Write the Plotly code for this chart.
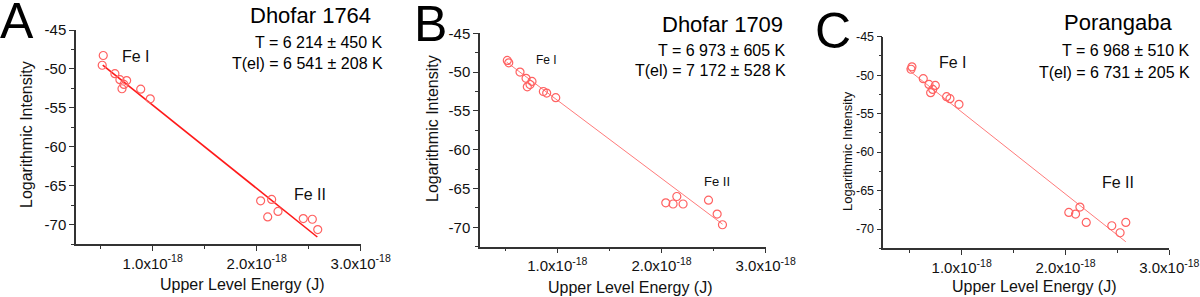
import plotly.graph_objects as go

W, H = 1200, 297

# ---------------- data ----------------
# Panel A - Dhofar 1764
a_fe1_x = [0.515e-18, 0.525e-18, 0.637e-18, 0.685e-18, 0.705e-18, 0.724e-18, 0.750e-18, 0.885e-18, 0.977e-18]
a_fe1_y = [-49.53, -48.28, -50.61, -51.38, -52.55, -52.00, -51.50, -52.60, -53.84]
a_fe2_x = [2.038e-18, 2.144e-18, 2.106e-18, 2.205e-18, 2.448e-18, 2.535e-18, 2.587e-18]
a_fe2_y = [-66.95, -66.77, -69.02, -68.32, -69.23, -69.32, -70.65]
a_fit_x = [0.520e-18, 2.583e-18]
a_fit_y = [-49.50, -71.60]

# Panel B - Dhofar 1709
b_fe1_x = [0.520e-18, 0.534e-18, 0.642e-18, 0.700e-18, 0.712e-18, 0.738e-18, 0.757e-18, 0.866e-18, 0.898e-18, 0.985e-18]
b_fe1_y = [-48.50, -48.80, -50.00, -50.80, -51.90, -51.60, -51.20, -52.50, -52.70, -53.30]
b_fe2_x = [2.041e-18, 2.111e-18, 2.147e-18, 2.207e-18, 2.451e-18, 2.534e-18, 2.585e-18]
b_fe2_y = [-66.85, -67.00, -66.03, -67.00, -66.50, -68.30, -69.67]
b_fit_x = [0.514e-18, 2.586e-18]
b_fit_y = [-48.72, -69.60]

# Panel C - Porangaba
c_fe1_x = [0.521e-18, 0.512e-18, 0.630e-18, 0.685e-18, 0.701e-18, 0.721e-18, 0.746e-18, 0.855e-18, 0.887e-18, 0.974e-18]
c_fe1_y = [-48.92, -49.23, -50.46, -51.20, -52.27, -51.85, -51.33, -52.79, -53.05, -53.79]
c_fe2_x = [2.032e-18, 2.097e-18, 2.139e-18, 2.200e-18, 2.446e-18, 2.526e-18, 2.581e-18]
c_fe2_y = [-67.84, -68.05, -67.14, -69.14, -69.57, -70.48, -69.14]
c_fit_x = [0.470e-18, 2.581e-18]
c_fit_y = [-49.13, -71.65]

panel_letters = ["A", "B", "C"]
panel_names = ["Dhofar 1764", "Dhofar 1709", "Porangaba"]
temp_T = ["T = 6 214 ± 450 K", "T = 6 973 ± 605 K", "T = 6 968 ± 510 K"]
temp_el = ["T(el) = 6 541 ± 208 K", "T(el) = 7 172 ± 528 K", "T(el) = 6 731 ± 205 K"]

y_tickvals = [-70, -65, -60, -55, -50, -45]
y_ticktext = ["-70", "-65", "-60", "-55", "-50", "-45"]
x_tickvals = [1.0e-18, 2.0e-18, 3.0e-18]
x_ticktext = ["1.0x10<sup>-18</sup>", "2.0x10<sup>-18</sup>", "3.0x10<sup>-18</sup>"]
x_ranges = [[0.263e-18, 3.0e-18], [0.258e-18, 3.0e-18], [0.245e-18, 3.0e-18]]
y_range = [-72.5, -45]

# label positions in data units (Fe I, Fe II)
fe1_label_pos = [(0.84e-18, -48.4), (0.90e-18, -48.4), (0.92e-18, -48.3)]
fe2_label_pos = [(2.51e-18, -66.1), (2.53e-18, -64.1), (2.51e-18, -64.0)]

# ---------------- styling / layout ----------------
FONT = "Liberation Sans, Arial, sans-serif"
MARKER_COLOR = "#ff6262"
LINE_COLORS = ["#ff1a1a", "#ff7a7a", "#ff7a7a"]
LINE_WIDTHS = [1.6, 1.0, 1.0]
AXIS_COLOR = "#333333"

# pixel geometry of each plot area: x0, x1, ytop, ybottom
geom = [(76, 360.7, 30, 244), (480, 765.7, 33.3, 246.7), (883.3, 1169.3, 36.7, 248.3)]
ytick_size = [15, 15, 12.5]
ytitle_size = [16, 16, 13]
fe1_size = [16, 12, 16]
fe2_size = [16, 13, 16]

def px(x):
    return x / W

def py(y):
    return 1 - y / H

fig = go.Figure()

datasets = [
    (a_fe1_x, a_fe1_y, a_fe2_x, a_fe2_y, a_fit_x, a_fit_y),
    (b_fe1_x, b_fe1_y, b_fe2_x, b_fe2_y, b_fit_x, b_fit_y),
    (c_fe1_x, c_fe1_y, c_fe2_x, c_fe2_y, c_fit_x, c_fit_y),
]

annotations = []
for i, (f1x, f1y, f2x, f2y, fx, fy) in enumerate(datasets):
    sfx = "" if i == 0 else str(i + 1)
    xa, ya = "x" + sfx, "y" + sfx
    fig.add_trace(go.Scatter(x=fx, y=fy, mode="lines", xaxis=xa, yaxis=ya,
                             line=dict(color=LINE_COLORS[i], width=LINE_WIDTHS[i]),
                             showlegend=False, hoverinfo="skip"))
    for xs, ys in ((f1x, f1y), (f2x, f2y)):
        fig.add_trace(go.Scatter(x=xs, y=ys, mode="markers", xaxis=xa, yaxis=ya,
                                 marker=dict(symbol="circle-open", size=8, color=MARKER_COLOR,
                                             line=dict(width=1.2, color=MARKER_COLOR)),
                                 showlegend=False))

    x0, x1, yt, yb = geom[i]
    common = dict(showline=True, linecolor=AXIS_COLOR, linewidth=1.5, showgrid=False, zeroline=False,
                  ticks="outside", ticklen=5, tickwidth=1.2, tickcolor=AXIS_COLOR, mirror=False,
                  automargin=False)
    fig.layout["xaxis" + sfx] = dict(
        domain=[px(x0), px(x1)], anchor=ya, range=x_ranges[i], tickmode="array",
        tickvals=x_tickvals, ticktext=x_ticktext,
        tickfont=dict(family=FONT, size=15, color="#111"),
        minor=dict(dtick=0.5e-18, tick0=0, ticks="outside", ticklen=3, tickcolor=AXIS_COLOR, tickwidth=1.2),
        **common)
    fig.layout["yaxis" + sfx] = dict(
        domain=[py(yb), py(yt)], anchor=xa, range=y_range, tickmode="array",
        tickvals=y_tickvals, ticktext=y_ticktext,
        tickfont=dict(family=FONT, size=ytick_size[i], color="#111"),
        minor=dict(dtick=2.5, tick0=0, ticks="outside", ticklen=3, tickcolor=AXIS_COLOR, tickwidth=1.2),
        **common)

    # Fe I / Fe II labels
    annotations.append(dict(x=fe1_label_pos[i][0], y=fe1_label_pos[i][1], xref=xa, yref=ya,
                            text="Fe I", showarrow=False, font=dict(family=FONT, size=fe1_size[i], color="#111")))
    annotations.append(dict(x=fe2_label_pos[i][0], y=fe2_label_pos[i][1], xref=xa, yref=ya,
                            text="Fe II", showarrow=False, font=dict(family=FONT, size=fe2_size[i], color="#111")))

# paper-positioned texts (pixel coordinates)
letter_pos = [(17, 21), (430, 24), (833, 31)]
name_pos = [(310, 16), (722, 25), (1118, 22)]
t_right = [385, 788, 1192]
t1_y = [42.5, 50, 50]
t2_y = [63.5, 70, 72]
ytitle_pos = [(26, 135), (432, 129), (847, 151)]
xtitle_pos = [(242, 284), (630, 287), (1034, 286)]

for i in range(3):
    annotations.append(dict(x=px(letter_pos[i][0]), y=py(letter_pos[i][1]), xref="paper", yref="paper",
                            text=panel_letters[i], showarrow=False, xanchor="center", yanchor="middle",
                            font=dict(family=FONT, size=50, color="#000")))
    annotations.append(dict(x=px(name_pos[i][0]), y=py(name_pos[i][1]), xref="paper", yref="paper",
                            text=panel_names[i], showarrow=False, xanchor="center", yanchor="middle",
                            font=dict(family=FONT, size=22, color="#000")))
    annotations.append(dict(x=px(t_right[i]), y=py(t1_y[i]), xref="paper", yref="paper",
                            text=temp_T[i], showarrow=False, xanchor="right", yanchor="middle",
                            font=dict(family=FONT, size=16, color="#000")))
    annotations.append(dict(x=px(t_right[i]), y=py(t2_y[i]), xref="paper", yref="paper",
                            text=temp_el[i], showarrow=False, xanchor="right", yanchor="middle",
                            font=dict(family=FONT, size=16, color="#000")))
    annotations.append(dict(x=px(ytitle_pos[i][0]), y=py(ytitle_pos[i][1]), xref="paper", yref="paper",
                            text="Logarithmic Intensity", showarrow=False, textangle=-90,
                            xanchor="center", yanchor="middle",
                            font=dict(family=FONT, size=ytitle_size[i], color="#111")))
    annotations.append(dict(x=px(xtitle_pos[i][0]), y=py(xtitle_pos[i][1]), xref="paper", yref="paper",
                            text="Upper Level Energy (J)", showarrow=False,
                            xanchor="center", yanchor="middle",
                            font=dict(family=FONT, size=16, color="#111")))

fig.update_layout(width=W, height=H, margin=dict(l=0, r=0, t=0, b=0, autoexpand=False),
                  plot_bgcolor="white", paper_bgcolor="white",
                  annotations=annotations, showlegend=False)

fig.write_html("out.html", config={"displayModeBar": False},
               post_script="document.body.style.margin='0';document.body.style.padding='0';document.body.style.overflow='hidden';")
